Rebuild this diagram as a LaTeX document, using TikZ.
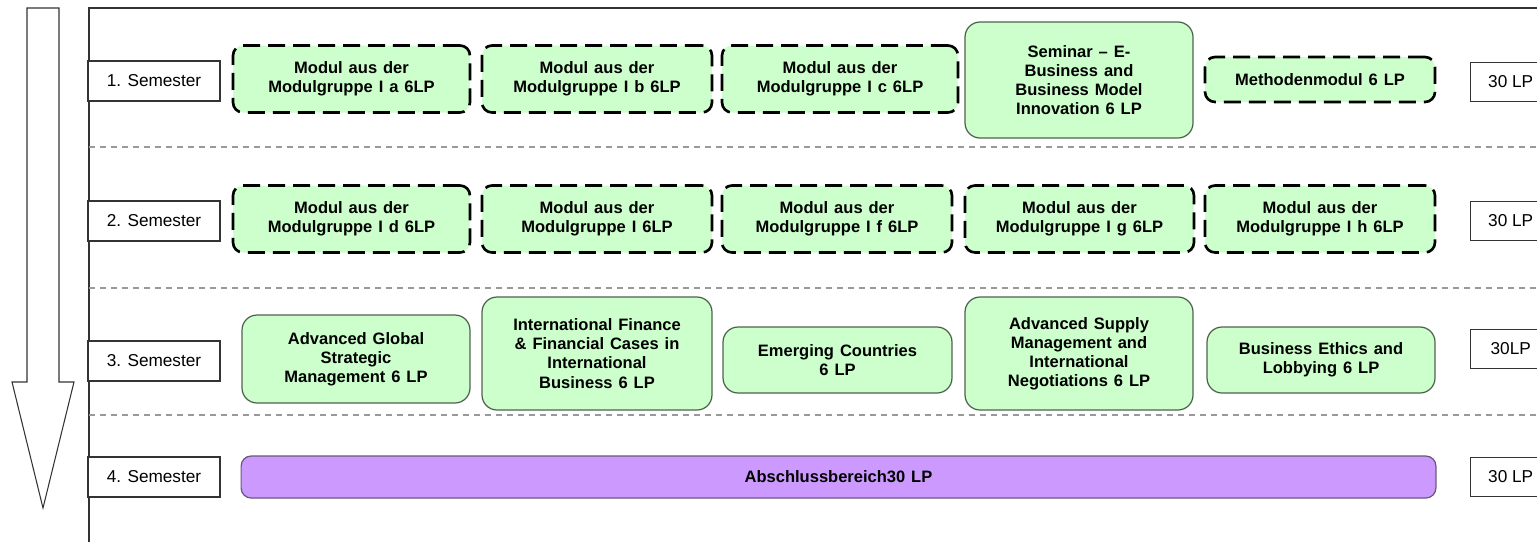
\documentclass[tikz,border=0pt]{standalone}
\usepackage{fontspec}
\setmainfont{Liberation Sans}
\definecolor{modgreen}{HTML}{CCFFCC}
\definecolor{modedge}{HTML}{4E634E}
\definecolor{abslila}{HTML}{CC99FF}
\definecolor{absedge}{HTML}{6A587A}
\definecolor{framegray}{HTML}{333333}
\newcommand\modfont{\bfseries\fontsize{9.4}{10.9}\selectfont\spaceskip=0.36em plus 0.1em\relax}
\tikzset{
  modbox/.style={draw=modedge, fill=modgreen, line width=0.7pt, rounded corners=0.3cm,
    align=center, inner sep=0pt, font=\modfont},
  wahlbox/.style={modbox, draw=black, line width=1.5pt, rounded corners=0.2cm,
    dash pattern=on 0.34cm off 0.16cm, minimum height=1.34cm},
  sembox/.style={draw=framegray, fill=white, line width=0.8pt, minimum width=2.64cm,
    minimum height=0.8cm, inner sep=0pt, font=\fontsize{9.8}{11}\selectfont},
  lpbox/.style={sembox, minimum width=1.6cm, minimum height=0.77cm},
  sepline/.style={draw=gray!80, line width=0.6pt, dash pattern=on 0.12cm off 0.1cm},
  frameline/.style={draw=framegray, line width=0.9pt}
}
\begin{document}
\begin{tikzpicture}[x=0.02cm, y=-0.02cm]
\useasboundingbox (0,0) rectangle (1537,542);
% Zeitpfeil
\draw[draw=framegray, line width=0.6pt] (27,8) -- (59,8) -- (59,382) -- (74,382)
  -- (43,508) -- (12,382) -- (27,382) -- cycle;
% Rahmen und Trennlinien
\draw[frameline] (1537,8) -- (89,8) -- (89,542);
\foreach \y in {147, 288, 415}
  \draw[sepline] (89,\y) -- (1537,\y);
% Semester und LP
\foreach \y/\i in {81/1, 221/2, 361/3, 477/4}
  \node[sembox] (sem\i) at (154,\y) {\i. Semester};
\foreach \y/\i/\t in {82/1/30 LP, 221/2/30 LP, 349/3/30LP, 477/4/30 LP}
  \node[lpbox, anchor=west] (lp\i) at (1470,\y) {\t};
% 1. Semester
\foreach \x/\w/\g [count=\n] in {351.5/4.74/I a, 597/4.6/I b, 840/4.72/I c}
  \node[wahlbox, minimum width=\w cm] (wa\n) at (\x,79) {Modul aus der\\Modulgruppe \g\ 6LP};
\node[modbox, minimum width=4.56cm, minimum height=2.32cm] (seminar) at (1079,80)
  {Seminar -- E-\\Business and\\Business Model\\Innovation 6 LP};
\node[wahlbox, minimum width=4.6cm, minimum height=0.9cm] (methoden) at (1320,79.5)
  {Methodenmodul 6 LP};
% 2. Semester
\foreach \x/\w/\g [count=\n] in {351.5/4.74/I d, 597/4.6/I, 837/4.6/I f, 1079.5/4.58/I g, 1320/4.6/I h}
  \node[wahlbox, minimum width=\w cm] (wb\n) at (\x,219) {Modul aus der\\Modulgruppe \g\ 6LP};
% 3. Semester
\node[modbox, minimum width=4.56cm, minimum height=1.76cm] (strategie) at (356,359)
  {Advanced Global\\Strategic\\Management 6 LP};
\node[modbox, minimum width=4.6cm, minimum height=2.26cm] (finance) at (597,353.5)
  {International Finance\\\& Financial Cases in\\International\\Business 6 LP};
\node[modbox, minimum width=4.58cm, minimum height=1.32cm] (emerging) at (837.5,360)
  {Emerging Countries\\6 LP};
\node[modbox, minimum width=4.56cm, minimum height=2.26cm] (supply) at (1079,353.5)
  {Advanced Supply\\Management and\\International\\Negotiations 6 LP};
\node[modbox, minimum width=4.56cm, minimum height=1.32cm] (ethics) at (1321,360)
  {Business Ethics and\\Lobbying 6 LP};
% 4. Semester
\node[modbox, draw=absedge, fill=abslila, rounded corners=0.2cm, minimum width=23.9cm,
  minimum height=0.84cm] (abschluss) at (838.5,477) {Abschlussbereich30 LP};
\end{tikzpicture}
\end{document}
